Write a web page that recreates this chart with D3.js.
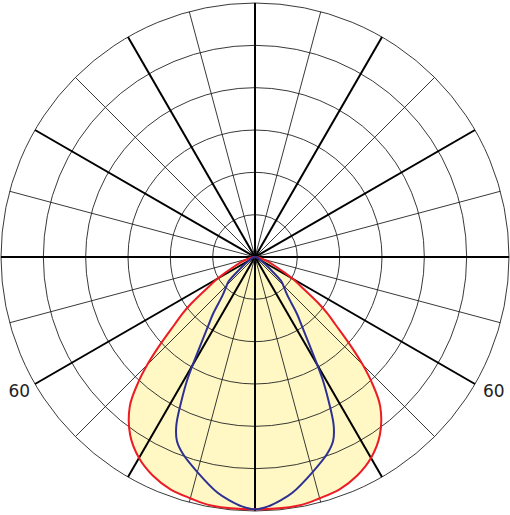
<!DOCTYPE html>
<html>
<head>
<meta charset="utf-8">
<script src="https://cdn.jsdelivr.net/npm/d3@7"></script>
<style>
  html, body { margin: 0; padding: 0; background: #fff; }
  svg { display: block; }
  .label { font-family: "DejaVu Sans", sans-serif; font-size: 17px; fill: #222; }
</style>
</head>
<body>
<svg id="chart" width="510" height="515"></svg>
<script>
// angle from nadir (deg, 0 = straight down), intensity in chart units (outer ring = 300)
var redAngles  = [0, 10, 15, 20, 25, 30, 35, 40, 43, 45, 47, 50, 52, 54, 57, 60, 62, 65, 70, 75, 80, 85, 90];
var redValues  = [298, 298, 295, 292, 285, 274, 257, 230, 202, 180, 156, 124, 109, 92, 67, 51, 40, 28, 17, 9, 5, 2, 1];

var blueAngles = [0, 3, 6, 9, 15, 20, 23, 25, 27, 29, 31.7, 34, 36.5, 40, 43.5, 47, 50, 55, 60, 70, 80, 90];
var blueValues = [298, 295, 289, 282, 263, 248, 236, 220, 192, 164, 123, 100, 83, 60, 50, 43, 28, 14, 8, 4, 2, 1];

var ringValues = [50, 100, 150, 200, 250, 300];
var spokeAngles = d3.range(0, 360, 15);
var labelAngles = [-60, 60];
var labelText = '60';

(function(){
    'use strict';

    var cx = 255, cy = 257, R = 254;
    var svg = d3.select('#chart');
    var g = svg.append('g').attr('transform', 'translate(' + cx + ',' + cy + ')');

    var r = d3.scaleLinear().domain([0, 300]).range([0, R]);
    var rad = function(deg) { return deg * Math.PI / 180; };

    // mirror one half-curve into a full closed lobe, lineRadial angle 0 = up so nadir = PI
    var mirror = function(angles, values) {
        var pts = [];
        for (var i = angles.length - 1; i > 0; i--) pts.push({a: -angles[i], v: values[i]});
        for (var j = 0; j < angles.length; j++) pts.push({a: angles[j], v: values[j]});
        return pts;
    };

    var line = d3.lineRadial()
        .angle(function(d) { return Math.PI - rad(d.a); })
        .radius(function(d) { return r(d.v); })
        .curve(d3.curveCatmullRom.alpha(0.5));

    var redPts = mirror(redAngles, redValues),
        bluePts = mirror(blueAngles, blueValues);

    g.append('path')
        .attr('d', line(redPts) + 'Z')
        .attr('fill', '#fff8c4')
        .attr('stroke', 'none');

    g.selectAll('circle.ring').data(ringValues)
        .enter().append('circle')
        .attr('class', 'ring')
        .attr('r', function(d) { return r(d); })
        .attr('fill', 'none')
        .attr('stroke', '#222')
        .attr('stroke-width', 0.9);

    g.selectAll('line.spoke').data(spokeAngles)
        .enter().append('line')
        .attr('class', 'spoke')
        .attr('x1', 0).attr('y1', 0)
        .attr('x2', function(d) { return r(300) * Math.sin(rad(d)); })
        .attr('y2', function(d) { return r(300) * Math.cos(rad(d)); })
        .attr('stroke', function(d) { return d % 30 === 0 ? '#000' : '#222'; })
        .attr('stroke-width', function(d) { return d % 30 === 0 ? 2 : 0.9; });

    g.append('path')
        .attr('d', line(redPts) + 'Z')
        .attr('fill', 'none')
        .attr('stroke', '#ec1c24')
        .attr('stroke-width', 2);

    g.append('path')
        .attr('d', line(bluePts) + 'Z')
        .attr('fill', 'none')
        .attr('stroke', '#2e3192')
        .attr('stroke-width', 2);

    g.selectAll('text.label').data(labelAngles)
        .enter().append('text')
        .attr('class', 'label')
        .attr('x', function(d) { return r(300) * Math.sin(rad(d)) + (d < 0 ? -5 : 8); })
        .attr('y', function(d) { return r(300) * Math.cos(rad(d)) + 13; })
        .attr('text-anchor', function(d) { return d < 0 ? 'end' : 'start'; })
        .text(labelText);
})();
</script>
</body>
</html>
